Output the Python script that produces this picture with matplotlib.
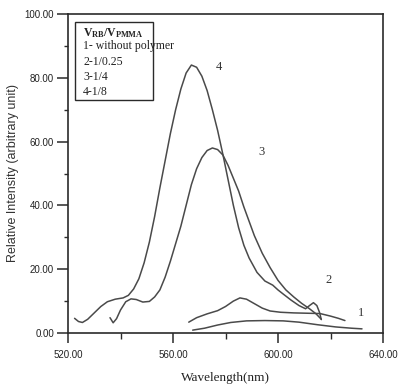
import matplotlib
matplotlib.use("Agg")
import matplotlib.pyplot as plt
from matplotlib.patches import Rectangle
from matplotlib.ticker import MultipleLocator, FormatStrFormatter

# ---- data ----
wl4 = [522.5, 524, 525.5, 527.5, 530, 532.5, 535, 538, 541, 543, 545, 547, 549, 551,
       553, 555, 557, 559, 561, 563, 565, 567, 569, 571, 573, 575, 577, 579, 581, 583,
       585, 587, 589, 592, 595, 598, 600, 602, 605, 608, 610.5, 612, 613.5, 614.8, 615.8, 616.5]
int4 = [4.6, 3.6, 3.3, 4.3, 6.3, 8.3, 9.8, 10.6, 11.0, 11.8, 13.8, 17.0, 22.0, 28.5,
        36.5, 45.5, 54.0, 62.5, 70.0, 76.5, 81.5, 84.0, 83.3, 80.5, 76.0, 70.0, 63.5, 56.0, 48.0, 40.0,
        33.0, 27.5, 23.5, 19.0, 16.3, 15.0, 13.5, 12.2, 10.3, 8.6, 7.6, 8.6, 9.5, 8.6, 6.5, 4.2]

wl3 = [536, 537.2, 538.5, 540, 542, 544, 546, 548.5, 551, 553, 555, 557, 559, 561, 563,
       565, 567, 569, 571, 573, 575, 577, 579, 581, 583, 585, 587, 589, 591, 594, 597,
       600, 603, 606, 609, 612, 614.5, 616.5]
int3 = [4.8, 3.2, 4.5, 7.2, 9.8, 10.7, 10.5, 9.7, 9.9, 11.3, 13.5, 17.5, 22.5, 28.0, 33.5,
        40.0, 46.5, 51.5, 55.0, 57.2, 58.0, 57.5, 55.8, 52.5, 48.5, 44.5, 39.5, 35.0, 30.5, 25.0, 20.5,
        16.5, 13.5, 11.3, 9.3, 7.6, 6.0, 4.3]

wl2 = [566, 569, 573, 577, 580, 583, 585.5, 588, 591, 594, 597, 601, 606, 611, 616, 620, 623, 625.5]
int2 = [3.4, 4.8, 6.0, 7.0, 8.3, 10.0, 11.0, 10.6, 9.2, 7.8, 6.9, 6.5, 6.3, 6.2, 6.1, 5.3, 4.6, 3.9]

wl1 = [567.5, 572, 577, 582, 588, 595, 602, 608, 615, 622, 628, 632]
int1 = [0.9, 1.5, 2.5, 3.3, 3.8, 3.9, 3.8, 3.4, 2.6, 1.9, 1.5, 1.3]

curve_labels = ["1", "2", "3", "4"]
label_pos_x = [631.6, 619.4, 593.8, 577.3]
label_pos_y = [6.3, 16.6, 56.7, 83.4]

legend_title = r"$\mathbf{V_{RB}/V_{PMMA}}$"
legend_lines = ["1- without polymer", "2-1/0.25", "3-1/4", "4-1/8"]

xlabel = "Wavelength(nm)"
ylabel = "Relative Intensity (arbitrary unit)"

# ---- styling ----
plt.rcParams['mathtext.fontset'] = 'custom'
plt.rcParams['mathtext.rm'] = 'Liberation Serif'
plt.rcParams['mathtext.bf'] = 'Liberation Serif:bold'
plt.rcParams['mathtext.it'] = 'Liberation Serif:italic'

serif = 'Liberation Serif'
sans = 'Liberation Sans'
line_col = '#4a4a4a'
axis_col = '#2a2a2a'

fig = plt.figure(figsize=(3.98, 3.84), dpi=100)
ax = fig.add_axes([68/398, 1-333/384, 315/398, 319/384])

for wl, iv in [(wl1, int1), (wl2, int2), (wl3, int3), (wl4, int4)]:
    ax.plot(wl, iv, color=line_col, lw=1.1, solid_capstyle='round')

for lab, lx, ly in zip(curve_labels, label_pos_x, label_pos_y):
    ax.text(lx, ly, lab, family=serif, fontsize=9, color='#333333', ha='center', va='center')

ax.set_xlim(520, 640)
ax.set_ylim(0, 100)
ax.xaxis.set_major_locator(MultipleLocator(40))
ax.xaxis.set_minor_locator(MultipleLocator(20))
ax.yaxis.set_major_locator(MultipleLocator(20))
ax.yaxis.set_minor_locator(MultipleLocator(10))
ax.xaxis.set_major_formatter(FormatStrFormatter('%.2f'))
ax.yaxis.set_major_formatter(FormatStrFormatter('%.2f'))

for sp in ax.spines.values():
    sp.set_color(axis_col)
    sp.set_linewidth(1.2)

ax.tick_params(axis='both', which='major', direction='out', color=axis_col, width=1.1,
               labelsize=7, labelcolor='#222222')
ax.tick_params(axis='y', which='major', length=8, pad=2)
ax.tick_params(axis='y', which='minor', length=3, width=1.0, color=axis_col)
ax.tick_params(axis='x', which='major', length=7, pad=5)
ax.tick_params(axis='x', which='minor', length=4, width=1.0, color=axis_col)
for t in ax.get_xticklabels() + ax.get_yticklabels():
    t.set_family(sans)

ax.set_xlabel(xlabel, family=serif, fontsize=9.5, color='#222222', labelpad=9)
ax.set_ylabel(ylabel, family=sans, fontsize=9, color='#333333', labelpad=4)

# legend box
ax.add_patch(Rectangle((7/315, (333-100)/319), (153-75)/315, (100-22)/319,
                       transform=ax.transAxes, fill=False, edgecolor=axis_col, lw=1.0))
lx0 = 15/315
ax.text(lx0, (333-33)/319, legend_title, transform=ax.transAxes, fontsize=8.5,
        ha='left', va='center', color='#222222')
for txt, py in zip(legend_lines, [46, 62, 77, 92]):
    ax.text(lx0, (333-py)/319, txt, transform=ax.transAxes, family=serif, fontsize=8.5,
            ha='left', va='center', color='#222222', clip_on=False)

fig.savefig("out.png", dpi=100)
